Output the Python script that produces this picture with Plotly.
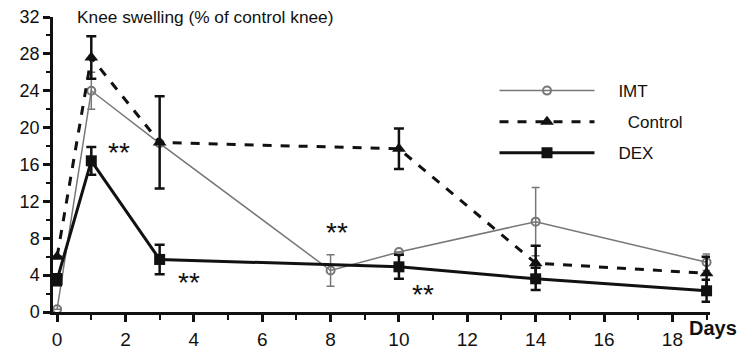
import plotly.graph_objects as go

# IMT group (open circles, thin grey line)
imt_x = [0, 1, 3, 8, 10, 14, 19]
imt_y = [0.3, 24.0, 18.3, 4.5, 6.5, 9.8, 5.4]
imt_err = [0.0, 2.0, 0.0, 1.7, 0.0, 3.7, 0.9]

# Control group (filled triangles, dashed line)
ctl_x = [0, 1, 3, 10, 14, 19]
ctl_y = [6.0, 27.6, 18.4, 17.7, 5.3, 4.2]
ctl_err = [0.0, 2.3, 5.0, 2.2, 1.9, 1.8]

# DEX group (filled squares, thick solid line)
dex_x = [0, 1, 3, 10, 14, 19]
dex_y = [3.5, 16.4, 5.7, 4.9, 3.6, 2.3]
dex_err = [0.6, 1.5, 1.6, 1.3, 1.2, 1.2]

# Significance markers
sig_x = [1.8, 3.85, 8.2, 10.7]
sig_y = [17.9, 3.8, 9.3, 2.5]
sig_text = ["**", "**", "**", "**"]

y_ticks = [0, 4, 8, 12, 16, 20, 24, 28, 32]
x_ticks = [0, 2, 4, 6, 8, 10, 12, 14, 16, 18]

FONT = "Liberation Sans, Arial, Helvetica, sans-serif"
BLACK = "#111111"
GREY = "#777777"
PAD = "\u00a0\u00a0\u00a0\u00a0"

fig = go.Figure()

fig.add_trace(go.Scatter(
    x=imt_x, y=imt_y, name=PAD + "IMT", mode="lines+markers",
    legendgroup="a",
    line=dict(color=GREY, width=1.5),
    marker=dict(symbol="circle-open", size=8, color=GREY, line=dict(width=2, color=GREY)),
    error_y=dict(type="data", array=imt_err, visible=True, color=GREY, thickness=1.5, width=4),
    cliponaxis=False,
))

fig.add_trace(go.Scatter(
    x=ctl_x, y=ctl_y, name=PAD + "\u00a0\u00a0Control", mode="lines+markers",
    legendgroup="b",
    line=dict(color=BLACK, width=3, dash="dash"),
    marker=dict(symbol="triangle-up", size=12, color=BLACK),
    error_y=dict(type="data", array=ctl_err, visible=True, color=BLACK, thickness=2.5, width=5),
    cliponaxis=False,
))

fig.add_trace(go.Scatter(
    x=dex_x, y=dex_y, name=PAD + "DEX", mode="lines+markers",
    legendgroup="c",
    line=dict(color=BLACK, width=3),
    marker=dict(symbol="square", size=11, color=BLACK),
    error_y=dict(type="data", array=dex_err, visible=True, color=BLACK, thickness=2.5, width=5),
    cliponaxis=False,
))

for sx, sy, st in zip(sig_x, sig_y, sig_text):
    fig.add_annotation(x=sx, y=sy, text=st, showarrow=False,
                       font=dict(family=FONT, size=28, color=BLACK), yshift=-6)

fig.add_annotation(xref="paper", yref="paper", x=1.0, y=0, xanchor="left", yanchor="top",
                   text="<b>Days</b>", showarrow=False, xshift=-23, yshift=-3,
                   font=dict(family=FONT, size=20, color=BLACK))

fig.add_annotation(xref="paper", yref="paper", x=0, y=1, xanchor="left", yanchor="middle",
                   text="Knee swelling (% of control knee)", showarrow=False, xshift=22,
                   font=dict(family=FONT, size=17.3, color=BLACK))

fig.update_xaxes(
    range=[-0.12, 19.1], tickvals=x_ticks, showgrid=False, zeroline=False,
    showline=True, linecolor=BLACK, linewidth=2.5, automargin=False,
    ticks="outside", ticklen=7, tickwidth=2.5, tickcolor=BLACK,
    ticklabelstandoff=1,
    minor=dict(dtick=1, tick0=0, ticks="outside", ticklen=5, tickwidth=2, tickcolor=BLACK),
    tickfont=dict(family=FONT, size=19, color=BLACK),
)
fig.update_yaxes(
    range=[0, 32], tickvals=y_ticks, showgrid=False, zeroline=False,
    showline=True, linecolor=BLACK, linewidth=2.5, automargin=False,
    ticks="outside", ticklen=7, tickwidth=2.5, tickcolor=BLACK,
    minor=dict(dtick=2, tick0=0, ticks="outside", ticklen=4, tickwidth=2, tickcolor=BLACK),
    tickfont=dict(family=FONT, size=18, color=BLACK),
)

fig.update_layout(
    width=751, height=350,
    margin=dict(l=53, r=41, t=17, b=38),
    paper_bgcolor="white", plot_bgcolor="white",
    font=dict(family=FONT, color=BLACK),
    showlegend=True,
    legend=dict(x=0.672, y=0.81, xanchor="left", yanchor="top",
                bgcolor="rgba(0,0,0,0)", itemwidth=95, tracegroupgap=6,
                font=dict(family=FONT, size=17, color=BLACK)),
)

fig.write_html("out.html")
